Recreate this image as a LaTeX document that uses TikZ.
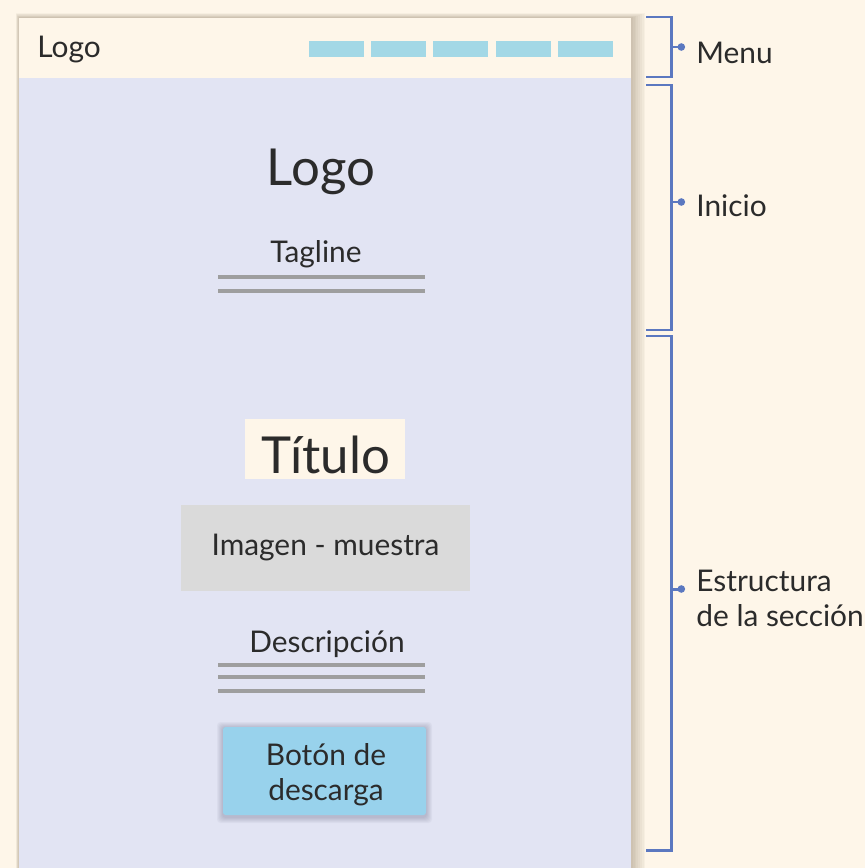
\documentclass[tikz,border=0pt]{standalone}
\usepackage{fontspec}
\setmainfont{Lato}
\usetikzlibrary{positioning,arrows.meta}

\definecolor{cream}{HTML}{FEF6E9}
\definecolor{lavender}{HTML}{E2E4F3}
\definecolor{menublue}{HTML}{A3D8E6}
\definecolor{buttonblue}{HTML}{98D2EC}
\definecolor{imagegray}{HTML}{DADADA}
\definecolor{linegray}{HTML}{9E9E9E}
\definecolor{bracketblue}{HTML}{5B78C0}
\definecolor{ink}{HTML}{2B2B2B}

\tikzset{
  txt/.style={text=ink, font=\fontsize{17}{20}\selectfont, inner sep=0pt},
  bigtxt/.style={text=ink, font=\fontsize{29}{34}\selectfont, inner sep=0pt},
  sidelabel/.style={txt, anchor=west, align=left},
  textline/.style={linegray, line width=2.4pt},
  bracket/.style={bracketblue, line width=1.7pt},
  tick/.style={bracketblue, line width=1.7pt, -{Circle[length=4.2pt]}}
}

\begin{document}
\begin{tikzpicture}[x=0.02cm, y=-0.02cm]
  % background and bounding box
  \fill[cream] (0,0) rectangle (865,868);
  \useasboundingbox (0,0) rectangle (865,868);

  % soft shadow behind the page
  \foreach \i in {1,...,8}
    \fill[black!60!brown, opacity=0.035] (19-\i*0.4,18-\i*0.6) rectangle (631+\i*1.8,880);

  % the page: header band and body
  \fill[lavender] (19,78) rectangle (631,880);
  \fill[cream] (19,18) rectangle (631,78);

  % header
  \node[txt, anchor=west] (headlogo) at (37,50) {Logo};
  \foreach \x in {309,371,433,496,558}
    \fill[menublue] (\x,41) rectangle (\x+55,57);

  % start block
  \node[bigtxt] (logo) at (321,172) {Logo};
  \node[txt] (tagline) at (316,254) {Tagline};
  \foreach \y in {277,291}
    \draw[textline] (218,\y) -- (425,\y);

  % section block
  \fill[cream] (245,419) rectangle (405,479);
  \node[bigtxt] (titulo) at (326,455) {Título};
  \node[txt, fill=imagegray, minimum width=5.78cm, minimum height=1.74cm] (imagen) at (325.5,548) {Imagen - muestra};
  \node[txt] (descripcion) at (327,644) {Descripción};
  \foreach \y in {665,677,691}
    \draw[textline] (218,\y) -- (425,\y);

  % download button with its shadow
  \foreach \i in {1,...,6}
    \fill[black!85!blue, opacity=0.03, rounded corners=2pt] (223-\i*1,727-\i*1+1) rectangle (426+\i*1,815+\i*1+2);
  \fill[buttonblue, rounded corners=1.5pt] (223,727) rectangle (426,815);
  \node[txt, align=center] (boton) at (326,775) {Botón de\\descarga};

  % brackets on the right
  \draw[bracket] (646,17) -- (671,17) -- (671,77) -- (646,77);
  \draw[bracket] (646,85) -- (671,85) -- (671,330) -- (646,330);
  \draw[bracket] (646,336) -- (671,336) -- (671,850) -- (646,850);

  \coordinate (menutick) at (671,47);
  \coordinate (iniciotick) at (671,202);
  \coordinate (secciontick) at (671,589);

  \node[sidelabel] (menu) at (696,53) {Menu};
  \node[sidelabel] (inicio) at (696,206) {Inicio};
  \node[sidelabel] (seccion) at (696,598) {Estructura\\de la sección};

  \draw[tick] (menutick) -- ++(14,0);
  \draw[tick] (iniciotick) -- ++(14,0);
  \draw[tick] (secciontick) -- ++(14,0);
\end{tikzpicture}
\end{document}
